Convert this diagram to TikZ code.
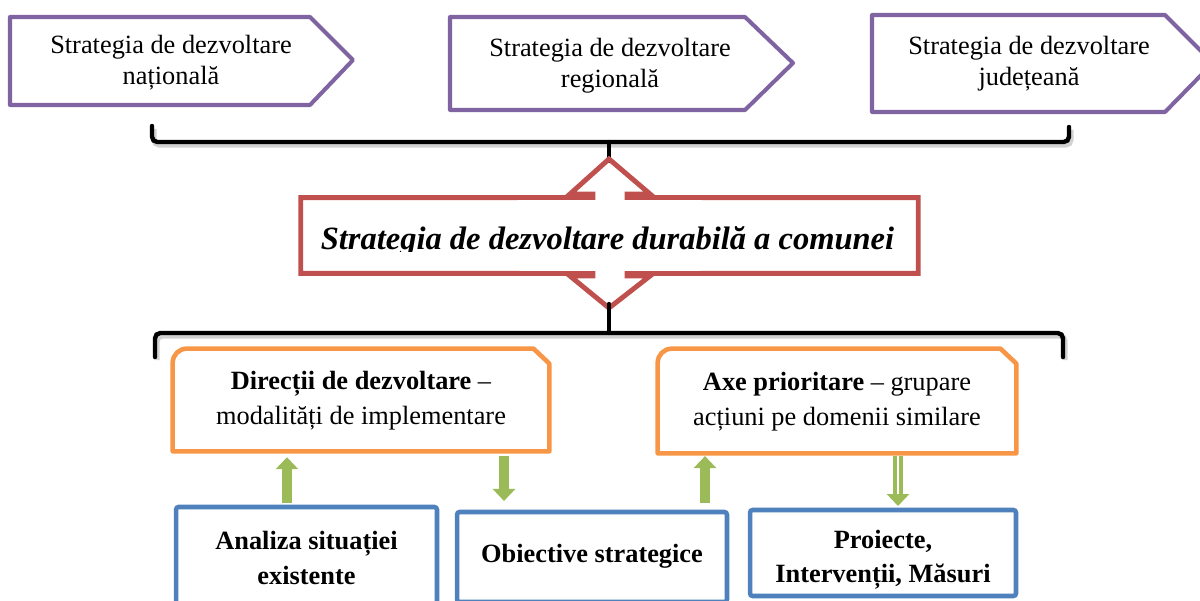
\documentclass[tikz,border=0pt]{standalone}
\usepackage{fontspec}
\setmainfont{Liberation Serif}
\usetikzlibrary{arrows.meta,calc}
\definecolor{cpurple}{HTML}{8064A2}
\definecolor{cred}{HTML}{C0504D}
\definecolor{corange}{HTML}{F79646}
\definecolor{cblue}{HTML}{4F81BD}
\definecolor{cgreen}{HTML}{9BBB59}
\tikzset{
  purpleline/.style={draw=cpurple, line width=2.3pt, line join=round},
  redline/.style={draw=cred, line width=2.8pt, line join=miter},
  orangeline/.style={draw=corange, line width=2.6pt, line join=round},
  toptext/.style={align=center, inner sep=0pt, font=\fontsize{15}{17.5}\selectfont},
  midbox/.style={align=center, inner sep=0pt, font=\fontsize{15}{20}\selectfont},
  bluebox/.style={draw=cblue, line width=2.6pt, rounded corners=1.5pt, inner sep=0pt},
  bluetext/.style={align=center, inner sep=0pt, font=\fontsize{15}{19.5}\selectfont\bfseries},
  bracestyle/.style={draw=black, line width=2.5pt, rounded corners=3pt, line cap=round},
  braceshadow/.style={draw=black!35, line width=3pt, rounded corners=3pt, opacity=0.5},
  garrow/.style={draw=cgreen, line width=5.7pt, -{Triangle[width=12.5pt,length=6.8pt]}}
}
\begin{document}
\begin{tikzpicture}[x=0.02cm, y=-0.02cm]
\path[use as bounding box] (0,0) rectangle (1200,601);
\clip (0,0) rectangle (1200,601);
\fill[white] (0,0) rectangle (1200,601);

% top pentagons
\draw[purpleline] (10,17) -- (310,17) -- (353,60) -- (310,105) -- (10,105) -- cycle;
\draw[purpleline] (450,17) -- (745,17) -- (793,63) -- (745,110) -- (450,110) -- cycle;
\draw[purpleline] (872,15) -- (1165,15) -- (1213,63) -- (1165,112) -- (872,112) -- cycle;
\node[toptext] (t1) at (171,63) {Strategia de dezvoltare\\națională};
\node[toptext] (t2) at (610,66) {Strategia de dezvoltare\\regională};
\node[toptext] (t3) at (1029,64) {Strategia de dezvoltare\\județeană};

% top brace
\draw[braceshadow] (154,129) -- (154,145) -- (1071,145) -- (1071,130);
\draw[bracestyle] (152,126) -- (152,142) -- (1069,142) -- (1069,127);
\draw[bracestyle, rounded corners=0pt] (609,142) -- (609,161);

% central red shape
\node[minimum width=617*0.569pt, minimum height=75*0.569pt, inner sep=0pt] (title) at (609.5,235.5) {};
\draw[redline] (title.north west) -- (593,197.5) -- (593,194) -- (570,194) -- (609,159) -- (650,194)
  -- (627,194) -- (627,197.5) -- (title.north east) -- (title.south east) -- (627,273.5) -- (627,276)
  -- (650,276) -- (609,308) -- (570,276) -- (593,276) -- (593,273.5) -- (title.south west) -- cycle;
\begin{scope}
  \clip (305,200) rectangle (915,252);
  \node[anchor=base, inner sep=0pt, font=\fontsize{18.5}{22}\selectfont\bfseries\itshape] (titletext) at (607.5,250)
    {Strategia de dezvoltare durabilă a comunei};
\end{scope}

% bottom brace
\draw[braceshadow] (157,360) -- (157,336) -- (1065,336) -- (1065,360);
\draw[bracestyle] (155,357) -- (155,333) -- (1063,333) -- (1063,357);
\draw[bracestyle, rounded corners=0pt] (609,333) -- (609,304);

% orange boxes
\node[midbox, minimum width=376*0.569pt, minimum height=102*0.569pt] (dir) at (361,401)
  {\textbf{Direcții de dezvoltare} –\\modalități de implementare};
\draw[orangeline] ([yshift=0.57pt]dir.south west) [rounded corners=8pt]-- ([yshift=0.57pt]dir.north west) [sharp corners]
  -- ([xshift=-9pt,yshift=0.57pt]dir.north east) -- ([yshift=-7.9pt]dir.north east) -- ([yshift=0.57pt]dir.south east) -- cycle;
\node[midbox, minimum width=358*0.569pt, minimum height=104*0.569pt] (axe) at (837,402)
  {\textbf{Axe prioritare} – grupare\\acțiuni pe domenii similare};
\draw[orangeline] ([yshift=0.57pt]axe.south west) [rounded corners=8pt]-- ([yshift=0.57pt]axe.north west) [sharp corners]
  -- ([xshift=-9pt,yshift=0.57pt]axe.north east) -- ([yshift=-7.9pt]axe.north east) -- ([yshift=0.57pt]axe.south east) -- cycle;

% blue boxes
\node[bluebox, minimum width=261*0.569pt, minimum height=99*0.569pt] (analiza) at (306.5,556.5) {};
\node[bluetext] (analizatext) at (306.5,558) {Analiza situației\\existente};
\node[bluebox, minimum width=270*0.569pt, minimum height=90*0.569pt] (obiective) at (592,557) {};
\node[bluetext] (obiectivetext) at (592,556) {Obiective strategice};
\node[bluebox, minimum width=266*0.569pt, minimum height=86*0.569pt] (proiecte) at (883,553) {};
\node[bluetext] (proiectetext) at (883,560) {Proiecte,\\Intervenții, Măsuri};

% green arrows
\coordinate (a1s) at ($(analiza.north)+(-19.5,0)$);
\coordinate (a1e) at (a1s |- dir.south);
\coordinate (a2s) at ($(dir.south)+(143,0)$);
\coordinate (a2e) at (a2s |- obiective.north);
\coordinate (a3s) at ($(obiective.north)+(113,0)$);
\coordinate (a3e) at (a3s |- axe.south);
\coordinate (a4s) at ($(axe.south)+(61,0)$);
\coordinate (a4e) at (a4s |- proiecte.north);
\draw[garrow, shorten <=1pt, shorten >=2.8pt] (a1s) -- (a1e);
\draw[garrow, shorten <=2pt, shorten >=5pt] (a2s) -- (a2e);
\draw[garrow, shorten <=4pt, shorten >=1pt] (a3s) -- (a3e);
\draw[garrow, shorten <=1pt, shorten >=1pt] (a4s) -- (a4e);
\draw[white, line width=0.8pt, shorten <=1pt, shorten >=7.8pt] (a4s) -- (a4e);
\end{tikzpicture}
\end{document}
